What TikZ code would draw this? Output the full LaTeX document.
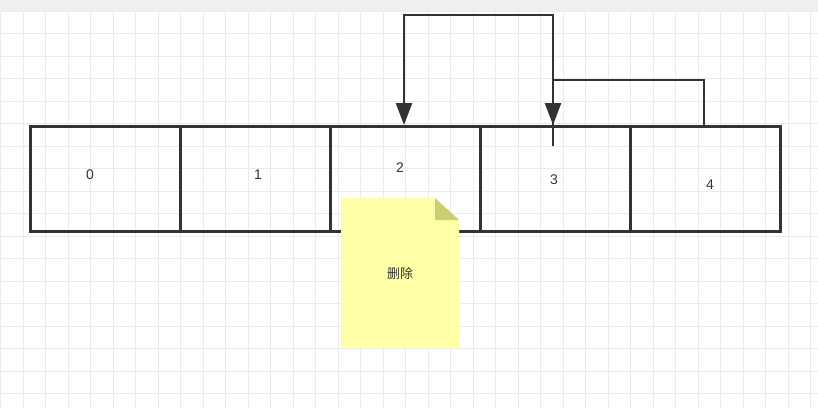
\documentclass[tikz,border=0pt]{standalone}
\usepackage{fontspec}
\setmainfont{Liberation Sans}
\newfontfamily\cjk{Noto Sans CJK SC}
\usetikzlibrary{arrows.meta}
\definecolor{ink}{HTML}{333333}
\definecolor{gridc}{HTML}{EBEBEB}
\definecolor{notey}{HTML}{FFFFA6}
\definecolor{foldc}{HTML}{CDCD73}
\begin{document}
\begin{tikzpicture}[x=1pt,y=-1pt,
  cell/.style={draw=ink,line width=2.5pt,minimum width=150pt,minimum height=105pt,inner sep=0pt,anchor=north west},
  lbl/.style={font=\fontsize{14}{16}\selectfont,text=ink},
  conn/.style={draw=ink,line width=2.5pt},
  arr/.style={conn,-{Triangle[length=22pt,width=16pt]}}]
\useasboundingbox (0,0) rectangle (818,408);
\fill[white] (0,0) rectangle (818,408);
\fill[gridc!80] (0,0) rectangle (818,11);
\foreach \i in {0,...,36} \draw[gridc,line width=1pt] (0.5+22.5*\i,11) -- (0.5+22.5*\i,408);
\foreach \i in {0,...,17} \draw[gridc,line width=1pt] (0,11+22.5*\i) -- (818,11+22.5*\i);
\node[cell] (b0) at (29,125) {};
\node[cell] (b1) at (179,125) {};
\node[cell] (b2) at (329,125) {};
\node[cell] (b3) at (479,125) {};
\node[cell] (b4) at (629,125) {};
\node[lbl] (t0) at (90,175) {0};
\node[lbl] (t1) at (258,175) {1};
\node[lbl] (t2) at (400,168) {2};
\node[lbl] (t3) at (554,180) {3};
\node[lbl] (t4) at (710,185) {4};
\coordinate (s1) at (553,146);
\coordinate (e1) at (404,125);
\coordinate (s2) at (704,125);
\coordinate (e2) at (553,125);
\draw[arr] (s1) -- (553,15) -- (404,15) -- (e1);
\draw[arr] (s2) -- (704,80) -- (553,80) -- (e2);
\fill[notey] (341,198) -- (435,198) -- (459,220) -- (459,347) -- (341,347) -- cycle;
\fill[foldc] (435,198) -- (459,220) -- (435,220) -- cycle;
\node[font=\cjk\fontsize{13}{15}\selectfont,text=ink] (note) at (400,274) {删除};
\end{tikzpicture}
\end{document}
